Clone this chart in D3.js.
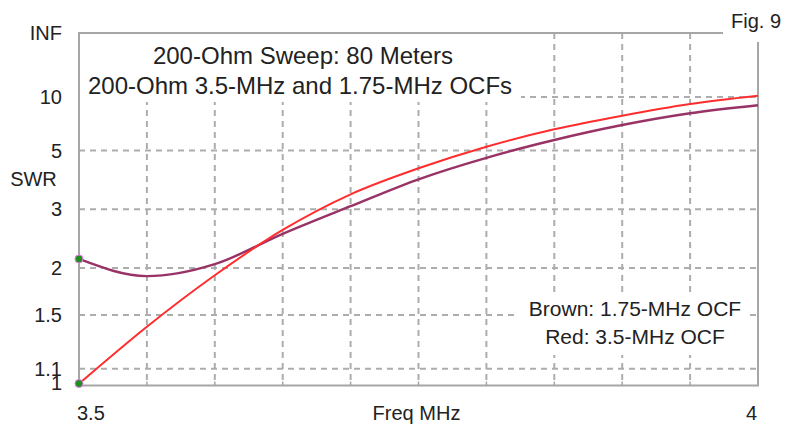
<!DOCTYPE html>
<html>
<head>
<meta charset="utf-8">
<script src="https://cdn.jsdelivr.net/npm/d3@7"></script>
<style>
  html, body { margin: 0; padding: 0; background: #fff; }
  svg { display: block; }
  text { font-family: "Liberation Sans", Arial, sans-serif; fill: #222; }
</style>
</head>
<body>
<svg id="chart" width="788" height="424"></svg>
<script>
// ---- data ----
const freqs = [3.50, 3.55, 3.60, 3.65, 3.70, 3.75, 3.80, 3.85, 3.90, 3.95, 4.00];
const swrRed = [1.01, 1.40, 1.91, 2.58, 3.37, 4.21, 5.20, 6.32, 7.53, 8.93, 10.24];     // 3.5-MHz OCF
const swrBrown = [2.12, 1.90, 2.05, 2.51, 3.07, 3.82, 4.65, 5.59, 6.66, 7.78, 8.75];   // 1.75-MHz OCF
const yTickValues = [1, 1.1, 1.5, 2, 3, 5, 10, Infinity];
const yTickLabels = ["1", "1.1", "1.5", "2", "3", "5", "10", "INF"];
const xTickValues = [3.5, 3.55, 3.6, 3.65, 3.7, 3.75, 3.8, 3.85, 3.9, 3.95, 4.0];
const titleLines = ["200-Ohm Sweep: 80 Meters", "200-Ohm 3.5-MHz and 1.75-MHz OCFs"];
const legendLines = ["Brown: 1.75-MHz OCF", "Red: 3.5-MHz OCF"];

// ---- layout ----
const L = 79, R = 758, T = 33, B = 385.5;
const svg = d3.select("#chart");

const x = d3.scaleLinear().domain([3.5, 4.0]).range([L, R]);
// SWR axis is linear in reflection coefficient rho = (s-1)/(s+1)
const yRho = d3.scaleLinear().domain([0, 1]).range([B, T]);
const rho = s => (s === Infinity ? 1 : (s - 1) / (s + 1));
const y = s => yRho(rho(s));

const gridColor = "#adadad";
const axisColor = "#a6a6a6";

// grid
const grid = svg.append("g");
grid.selectAll("line.v").data(xTickValues.slice(1, -1)).join("line")
  .attr("x1", d => x(d)).attr("x2", d => x(d)).attr("y1", T).attr("y2", B)
  .attr("stroke", gridColor).attr("stroke-width", 2).attr("stroke-dasharray", "6,5");
grid.selectAll("line.h").data(yTickValues.filter(v => v > 1 && v < Infinity)).join("line")
  .attr("x1", L).attr("x2", R).attr("y1", d => y(d)).attr("y2", d => y(d))
  .attr("stroke", gridColor).attr("stroke-width", 2).attr("stroke-dasharray", "6,5");

// bottom axis tick marks
svg.append("g").selectAll("line").data(xTickValues).join("line")
  .attr("x1", d => x(d)).attr("x2", d => x(d)).attr("y1", B - 4).attr("y2", B)
  .attr("stroke", axisColor).attr("stroke-width", 1.5);

// title white box and text
svg.append("rect").attr("x", L + 1).attr("y", T + 1).attr("width", 441).attr("height", 68).attr("fill", "#fff");
svg.append("text").attr("x", 303).attr("y", 64).attr("text-anchor", "middle")
  .style("font-size", "24px").text(titleLines[0]);
svg.append("text").attr("x", 300).attr("y", 94).attr("text-anchor", "middle")
  .style("font-size", "24px").text(titleLines[1]);

// legend white box and text
svg.append("rect").attr("x", 516).attr("y", 292).attr("width", 231).attr("height", 63).attr("fill", "#fff");
svg.append("text").attr("x", 635).attr("y", 316).attr("text-anchor", "middle")
  .style("font-size", "21px").text(legendLines[0]);
svg.append("text").attr("x", 635).attr("y", 344).attr("text-anchor", "middle")
  .style("font-size", "21px").text(legendLines[1]);

// frame
svg.append("line").attr("x1", L).attr("x2", L).attr("y1", T).attr("y2", B + 1)
  .attr("stroke", axisColor).attr("stroke-width", 2);
svg.append("line").attr("x1", L).attr("x2", R + 1).attr("y1", B).attr("y2", B)
  .attr("stroke", axisColor).attr("stroke-width", 2);
svg.append("line").attr("x1", L - 1).attr("x2", 723).attr("y1", T).attr("y2", T)
  .attr("stroke", axisColor).attr("stroke-width", 2);
svg.append("line").attr("x1", R).attr("x2", R).attr("y1", 42).attr("y2", B)
  .attr("stroke", axisColor).attr("stroke-width", 2);

// curves
const line = d3.line().x((d, i) => x(freqs[i])).y(d => y(d)).curve(d3.curveMonotoneX);
svg.append("path").datum(swrBrown).attr("d", line)
  .attr("fill", "none").attr("stroke", "#993366").attr("stroke-width", 2.4);
svg.append("path").datum(swrRed).attr("d", line)
  .attr("fill", "none").attr("stroke", "#ff2d2d").attr("stroke-width", 2);

// start markers
svg.append("g").selectAll("circle").data([swrBrown[0], swrRed[0]]).join("circle")
  .attr("cx", x(freqs[0])).attr("cy", d => Math.min(y(d), B - 2)).attr("r", 4)
  .attr("fill", "#1f8f1f").attr("stroke", "#ee77ee").attr("stroke-width", 1);

// y labels
svg.append("g").selectAll("text").data(yTickValues).join("text")
  .attr("x", 62).attr("y", d => Math.min(y(d), B - 2.5))
  .attr("text-anchor", "end").attr("dominant-baseline", "central")
  .style("font-size", "20px").text((d, i) => yTickLabels[i]);
svg.append("text").attr("x", 33.5).attr("y", 179).attr("text-anchor", "middle")
  .attr("dominant-baseline", "central").style("font-size", "20px").text("SWR");

// x labels
svg.append("text").attr("x", x(3.5) - 2).attr("y", 420).attr("text-anchor", "start")
  .style("font-size", "20px").text("3.5");
svg.append("text").attr("x", x(4.0) - 1).attr("y", 420).attr("text-anchor", "end")
  .style("font-size", "20px").text("4");
svg.append("text").attr("x", (L + R) / 2 - 2).attr("y", 420).attr("text-anchor", "middle")
  .style("font-size", "20px").text("Freq MHz");

// figure tag
svg.append("text").attr("x", 731).attr("y", 28).attr("text-anchor", "start")
  .style("font-size", "20px").text("Fig. 9");
</script>
</body>
</html>
